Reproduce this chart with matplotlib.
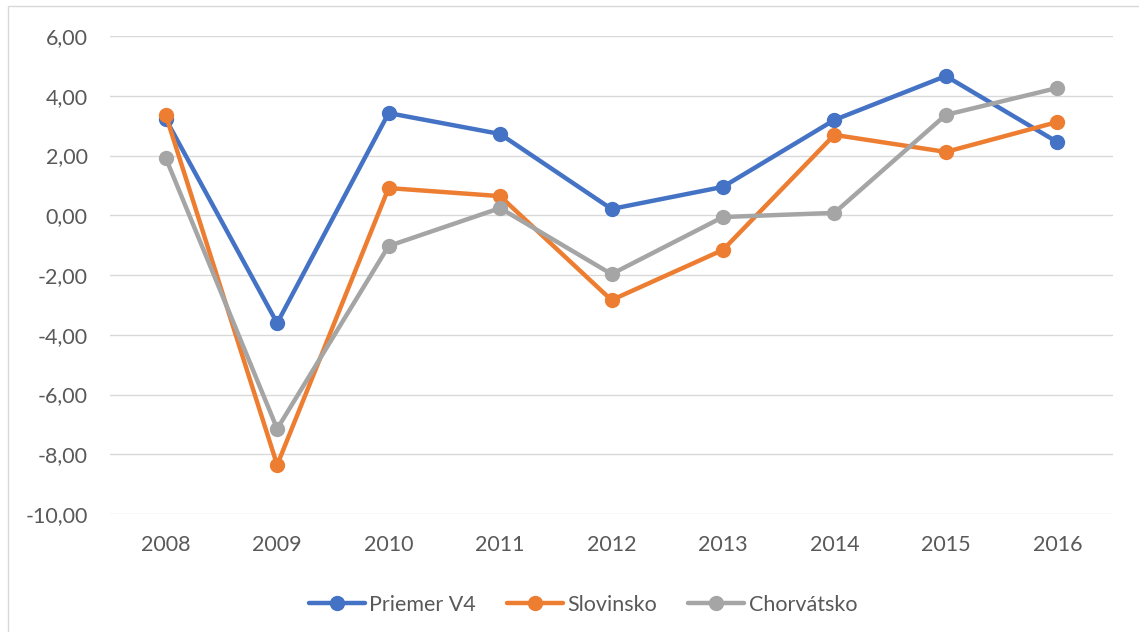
import numpy as np
import matplotlib.pyplot as plt
from matplotlib.patches import Rectangle

years = ['2008', '2009', '2010', '2011', '2012', '2013', '2014', '2015', '2016']
priemer_v4 = [3.22, -3.61, 3.42, 2.72, 0.21, 0.95, 3.19, 4.66, 2.45]
slovinsko = [3.36, -8.36, 0.91, 0.64, -2.84, -1.16, 2.69, 2.12, 3.12]
chorvatsko = [1.92, -7.15, -1.03, 0.24, -1.97, -0.06, 0.08, 3.36, 4.26]

series = [
    ('Priemer V4', priemer_v4, '#4472C4'),
    ('Slovinsko', slovinsko, '#ED7D31'),
    ('Chorvátsko', chorvatsko, '#A5A5A5'),
]

plt.rcParams['font.family'] = ['Lato', 'DejaVu Sans']

fig = plt.figure(figsize=(11.39, 6.32), dpi=100)
# chart frame (cropped at right/bottom)
fig.patches.append(Rectangle((8 / 1139, -0.1), 1.2, 1 - 6 / 632 + 0.1,
                             transform=fig.transFigure, fill=False,
                             edgecolor='#D9D9D9', linewidth=1.0))

ax = fig.add_axes([110 / 1139, 1 - 514 / 632, (1113 - 110) / 1139, (514 - 36) / 632])
x = np.arange(len(years))
for name, vals, color in series:
    ax.plot(x, vals, color=color, linewidth=3.2, marker='o', markersize=10,
            label=name, solid_capstyle='round')

ax.set_xlim(-0.5, len(years) - 0.5)
ax.set_ylim(-10, 6)
ax.set_yticks(np.arange(-10, 7, 2))
ax.set_yticklabels([f'{v:.2f}'.replace('.', ',') for v in np.arange(-10, 7, 2)])
ax.set_xticks(x)
ax.set_xticklabels(years)
ax.grid(axis='y', color='#D9D9D9', linewidth=1.0)
ax.set_axisbelow(True)
for s in ax.spines.values():
    s.set_visible(False)
ax.tick_params(length=0, labelsize=15.5, colors='#595959', pad=16)
ax.tick_params(axis='x', pad=15)

leg = fig.legend(loc='center', bbox_to_anchor=(583 / 1139, 1 - 605 / 632), ncol=3,
                 frameon=False, fontsize=15.5, handlelength=2.6, columnspacing=1.45,
                 handletextpad=0.2)
for t in leg.get_texts():
    t.set_color('#595959')

fig.savefig('out.png', dpi=100)
